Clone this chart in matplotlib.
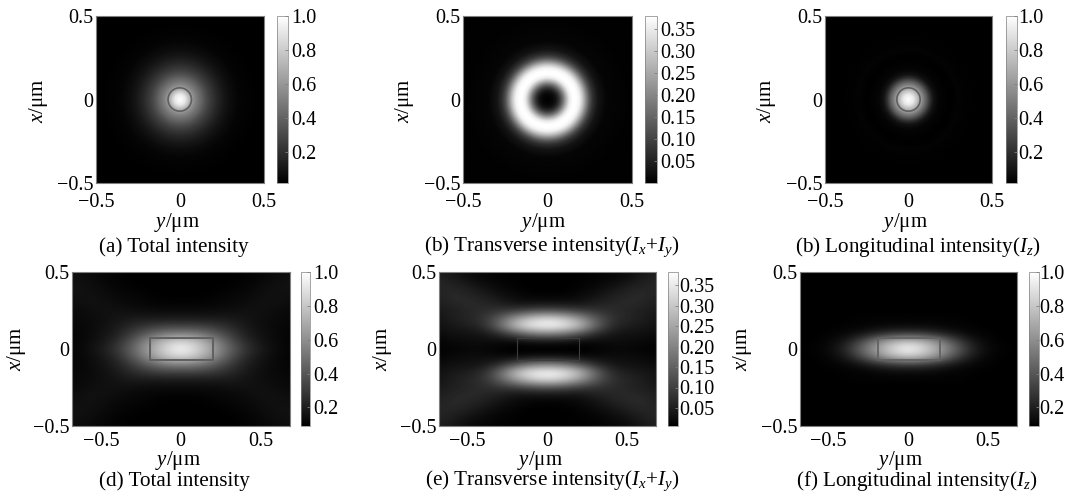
import numpy as np
import matplotlib
matplotlib.use("Agg")
import matplotlib.pyplot as plt
from matplotlib.patches import Circle, Rectangle

plt.rcParams['font.family'] = ['Liberation Serif', 'DejaVu Serif']
plt.rcParams['mathtext.fontset'] = 'custom'
plt.rcParams['mathtext.rm'] = 'Liberation Serif'
plt.rcParams['mathtext.it'] = 'Liberation Serif:italic'
plt.rcParams['axes.unicode_minus'] = True

W, H = 1071, 497
GREY = '#808080'
FS_TICK = 14.5
FS_LABEL = 15
FS_CAP = 15.2

# ---- radial profiles read from the top row ----
radius_a = [0, .03, .05, .07, .09, .11, .13, .15, .18, .22, .26, .30, .35, .40, .50, .80]
total_a = [1.0, .92, .78, .62, .53, .46, .40, .33, .25, .17, .11, .07, .04, .03, .02, .02]
radius_b = [0, .03, .05, .07, .09, .11, .13, .15, .17, .19, .21, .23, .25, .27, .30, .35, .50, .80]
trans_b = [0, .01, .03, .08, .16, .26, .35, .38, .38, .36, .29, .20, .12, .07, .03, .008, .002, .002]
radius_c = [0, .03, .05, .07, .09, .11, .13, .15, .18, .25, .30, .35, .50, .80]
long_c = [1.0, .92, .78, .64, .50, .36, .20, .09, .04, .02, .035, .025, .02, .02]

# ---- upper-right quadrant of the bottom row (rows: x=0..0.5, columns: y=0..0.7) ----
total_d = [
    [1.00, .85, .66, .45, .28, .18, .13, .10],
    [.86, .78, .60, .40, .24, .16, .12, .10],
    [.55, .52, .43, .31, .20, .15, .12, .10],
    [.32, .32, .29, .24, .18, .14, .12, .11],
    [.18, .18, .18, .18, .16, .14, .13, .11],
    [.13, .13, .13, .14, .15, .15, .13, .12],
    [.10, .10, .11, .12, .13, .15, .15, .13],
    [.09, .09, .10, .11, .12, .14, .15, .14],
    [.09, .09, .09, .10, .11, .13, .15, .15],
    [.09, .09, .09, .09, .10, .12, .14, .15],
    [.09, .09, .09, .09, .10, .11, .13, .14],
]
trans_e = [
    [.00, .00, .00, .01, .015, .015, .01, .01],
    [.03, .03, .02, .02, .025, .025, .02, .01],
    [.20, .18, .13, .07, .04, .03, .03, .02],
    [.38, .36, .29, .16, .07, .05, .04, .03],
    [.33, .30, .23, .14, .08, .06, .05, .03],
    [.12, .11, .09, .08, .07, .06, .05, .04],
    [.03, .03, .03, .05, .06, .07, .06, .05],
    [.01, .01, .02, .03, .05, .06, .07, .05],
    [.005, .005, .01, .02, .03, .05, .06, .06],
    [.005, .005, .01, .01, .02, .03, .05, .06],
    [.005, .005, .005, .01, .015, .02, .04, .05],
]
long_f = [
    [1.00, .86, .66, .44, .22, .12, .10, .09],
    [.80, .73, .56, .34, .17, .11, .09, .09],
    [.30, .28, .22, .15, .11, .10, .09, .09],
    [.12, .12, .11, .10, .10, .09, .09, .09],
    [.10, .10, .10, .10, .09, .09, .09, .09],
    [.09, .09, .09, .09, .09, .09, .09, .09],
    [.09, .09, .09, .09, .09, .09, .09, .09],
    [.09, .09, .09, .09, .09, .09, .09, .09],
    [.09, .09, .09, .09, .09, .09, .09, .09],
    [.09, .09, .09, .09, .09, .09, .09, .09],
    [.09, .09, .09, .09, .09, .09, .09, .09],
]

ticks_int = [.2, .4, .6, .8, 1.0]
ticklabels_int = ['0.2', '0.4', '0.6', '0.8', '1.0']
ticks_tr = [.05, .10, .15, .20, .25, .30, .35]
ticklabels_tr = ['0.05', '0.10', '0.15', '0.20', '0.25', '0.30', '0.35']
captions = ['(a) Total intensity',
            r'(b) Transverse intensity($\mathit{I}_{x}$+$\mathit{I}_{y}$)',
            r'(b) Longitudinal intensity($\mathit{I}_{z}$)',
            '(d) Total intensity',
            r'(e) Transverse intensity($\mathit{I}_{x}$+$\mathit{I}_{y}$)',
            r'(f) Longitudinal intensity($\mathit{I}_{z}$)']

fig = plt.figure(figsize=(W / 100, H / 100), dpi=100)


def box(l, t, r, b):
    return [l / W, 1 - b / H, (r - l) / W, (b - t) / H]


def ftext(x, y, s, **kw):
    fig.text(x / W, 1 - y / H, s, ha=kw.pop('ha', 'center'), va='center', **kw)


def radial(rad, prof):
    g = np.linspace(-.5, .5, 401)
    xx, yy = np.meshgrid(g, g)
    return np.interp(np.hypot(xx, yy), rad, prof)


def mirrored(q):
    q = np.array(q)
    top = np.hstack([q[:, :0:-1], q])
    return np.vstack([top[:0:-1], top])


def panel(axb, cb, data, extent, lim, vmin, vmax, interp, ticks, tl, shape, xl, yl, cap, xpad, cpad):
    ax = fig.add_axes(box(*axb))
    im = ax.imshow(data, cmap='gray', vmin=vmin, vmax=vmax, extent=extent, origin='lower',
                   interpolation=interp, aspect='auto')
    ax.set_xlim(-lim, lim)
    ax.set_ylim(-.5, .5)
    ax.set_xticks([-.5, 0, .5])
    ax.set_xticklabels(['\u22120.5', '0', '0.5'], fontsize=FS_TICK)
    ax.set_yticks([-.5, 0, .5])
    ax.set_yticklabels(['\u22120.5', '0', '0.5'], fontsize=FS_TICK)
    ax.tick_params(axis='y', length=0, pad=2)
    ax.tick_params(axis='x', length=0, pad=xpad)
    for s in ax.spines.values():
        s.set_color(GREY)
        s.set_linewidth(.8)
    if shape is not None:
        ax.add_patch(shape)
    cax = fig.add_axes(box(*cb))
    cbar = fig.colorbar(im, cax=cax)
    cbar.set_ticks(ticks)
    cbar.set_ticklabels(tl, fontsize=FS_TICK)
    cbar.ax.tick_params(direction='in', length=2.5, width=.6, color=GREY, pad=cpad)
    cbar.outline.set_edgecolor(GREY)
    cbar.outline.set_linewidth(.5)
    ftext(xl[0], xl[1], r'$\mathit{y}$/μm', fontsize=FS_LABEL)
    ftext(yl[0], yl[1], r'$\mathit{x}$/μm', fontsize=FS_LABEL, rotation=90)
    ftext(cap[0], cap[1], cap[2], fontsize=FS_CAP)


top = [-.5, .5, -.5, .5]
bot = [-.75, .75, -.525, .525]

panel((96, 16, 263.5, 183), (277, 16, 288, 183), radial(radius_a, total_a), top, .5, .02, 1.0,
      'bilinear', ticks_int, ticklabels_int,
      Circle((0, 0), .07, fill=False, ec='#606060', lw=1.2), (177, 223), (38, 101),
      (174, 247, captions[0]), 7, 2.5)
panel((463, 16, 632, 183), (645, 16, 657, 183), radial(radius_b, trans_b), top, .5, 0, .38,
      'bilinear', ticks_tr, ticklabels_tr, None, (543, 223), (405, 101),
      (552, 247, captions[1]), 7, 2.5)
panel((825, 16, 992, 183), (1006, 16, 1017, 183), radial(radius_c, long_c), top, .5, .02, 1.0,
      'bilinear', ticks_int, ticklabels_int,
      Circle((0, 0), .07, fill=False, ec='#606060', lw=1.2), (905, 223), (767, 101),
      (918, 247, captions[2]), 7, 1)
panel((72, 272, 289.5, 426), (301, 272, 310, 426), mirrored(total_d), bot, .68, .09, 1.0,
      'bicubic', ticks_int, ticklabels_int,
      Rectangle((-.19, -.07), .39, .14, fill=False, ec='#606060', lw=1.4), (178, 461), (17, 349),
      (174, 481, captions[3]), 4, 2.5)
panel((439, 272, 656, 426), (668, 272, 678, 426), mirrored(trans_e), bot, .68, .006, .382,
      'bicubic', ticks_tr, ticklabels_tr,
      Rectangle((-.19, -.07), .39, .14, fill=False, ec='#3c3c3c', lw=.8), (540, 461), (383, 349),
      (552, 481, captions[4]), 4, 1)
panel((800, 272, 1017, 426), (1029, 272, 1039, 426), mirrored(long_f), bot, .68, .09, 1.0,
      'bicubic', ticks_int, ticklabels_int,
      Rectangle((-.19, -.07), .39, .14, fill=False, ec='#606060', lw=1.2), (900, 461), (743, 349),
      (917, 481, captions[5]), 4, 0.5)

fig.savefig('out.png', dpi=100)
